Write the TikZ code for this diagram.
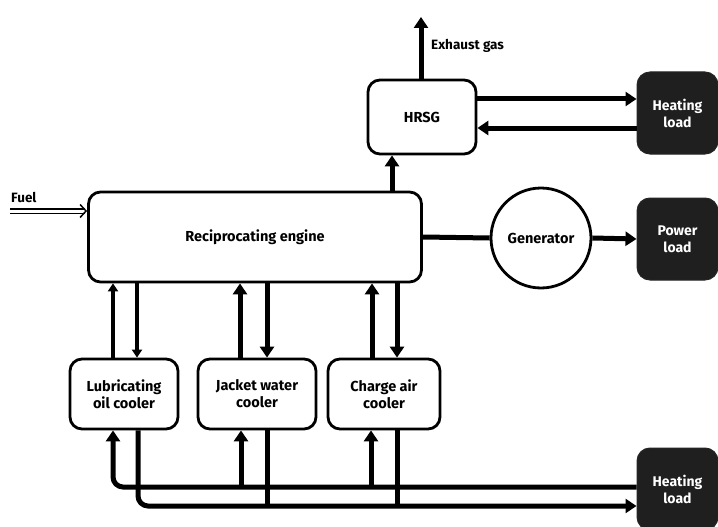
\documentclass[tikz,border=0pt]{standalone}
\usepackage{fontspec}
\setmainfont{Fira Sans}
\usetikzlibrary{arrows.meta,shapes.geometric}
\begin{document}
\begin{tikzpicture}[x=1pt,y=-1pt,
  box/.style={draw=black,line width=2.8pt,rounded corners=12pt,fill=white,align=center,font=\bfseries\fontsize{14.5}{17}\selectfont,inner sep=2pt},
  darkbox/.style={draw=black!85,line width=1pt,rounded corners=13pt,fill=black!88,text=white,align=center,font=\bfseries\fontsize{14}{17}\selectfont,inner sep=2pt},
  flow/.style={line width=5pt},
  arr/.style={flow,-{Triangle[length=11pt,width=14pt]}},
  thinarr/.style={line width=4.2pt,-{Triangle[length=8pt,width=10pt]}},
  lbl/.style={font=\bfseries\fontsize{13.5}{16}\selectfont,inner sep=1pt}
]
\useasboundingbox (0,0) rectangle (718,527);

% nodes
\node[box,minimum width=333pt,minimum height=90pt] (engine) at (255,237) {Reciprocating engine};
\node[box,minimum width=108pt,minimum height=74pt] (hrsg) at (422,117) {HRSG};
\node[draw=black,line width=2.8pt,circle,fill=white,minimum size=100pt,inner sep=0pt,font=\bfseries\fontsize{14.5}{17}\selectfont] (gen) at (541,238) {Generator};
\node[darkbox,minimum width=81pt,minimum height=82pt] (heatA) at (677.5,113) {Heating\\load};
\node[darkbox,minimum width=81pt,minimum height=82pt] (power) at (677.5,239) {Power\\load};
\node[darkbox,minimum width=81pt,minimum height=82pt] (heatB) at (677.5,489) {Heating\\load};
\node[box,minimum width=108pt,minimum height=70pt] (lub) at (124,394) {Lubricating\\oil cooler};
\node[box,minimum width=118pt,minimum height=70pt] (jack) at (257,394) {Jacket water\\cooler};
\node[box,minimum width=112pt,minimum height=70pt] (charge) at (384,394) {Charge air\\cooler};

% labels
\node[lbl,anchor=west] (exlbl) at (430,46) {Exhaust gas};
\node[lbl,anchor=west] (fuellbl) at (10,197) {Fuel};
\coordinate (exend) at (421,17);
\coordinate (fuelstart) at (10,211);

% exhaust & fuel
\draw[arr] (hrsg.north -| exend) -- (exend);
\draw[double=white,double distance=3pt,line width=1.3pt,-{Straight Barb[length=6pt,width=13pt,line width=1.5pt]}] (fuelstart) -- (fuelstart -| engine.west);

% engine -> HRSG
\draw[arr] (engine.north -| 392,0) -- (hrsg.south -| 392,0);
% HRSG <-> heating load
\draw[arr] (hrsg.east |- 0,99) -- (heatA.west |- 0,99);
\draw[arr] (heatA.west |- 0,128) -- (hrsg.east |- 0,128);
% engine -> generator -> power
\draw[flow] (engine.east) -- (gen.west);
\draw[arr] (gen.east) -- (power.west);

% engine <-> coolers
\draw[thinarr] (lub.north -| 113,0) -- (engine.south -| 113,0);
\draw[thinarr] (engine.south -| 137,0) -- (lub.north -| 137,0);
\draw[arr] (jack.north -| 240,0) -- (engine.south -| 240,0);
\draw[arr] (engine.south -| 267,0) -- (jack.north -| 267,0);
\draw[arr] (charge.north -| 372,0) -- (engine.south -| 372,0);
\draw[arr] (engine.south -| 397,0) -- (charge.north -| 397,0);

% heating loop to coolers
\coordinate (supL) at (113,487);
\coordinate (retL) at (138,506);
\draw[arr,rounded corners=10pt] (heatB.west |- supL) -- (supL) -- (lub.south -| supL);
\draw[arr] (241,487) -- (jack.south -| 241,0);
\draw[arr] (371,487) -- (charge.south -| 371,0);
\draw[flow] (jack.south -| 267,0) -- (267,506);
\draw[flow] (charge.south -| 397,0) -- (397,506);
\draw[arr,rounded corners=10pt] (lub.south -| retL) -- (retL) -- (heatB.west |- retL);
\end{tikzpicture}
\end{document}
